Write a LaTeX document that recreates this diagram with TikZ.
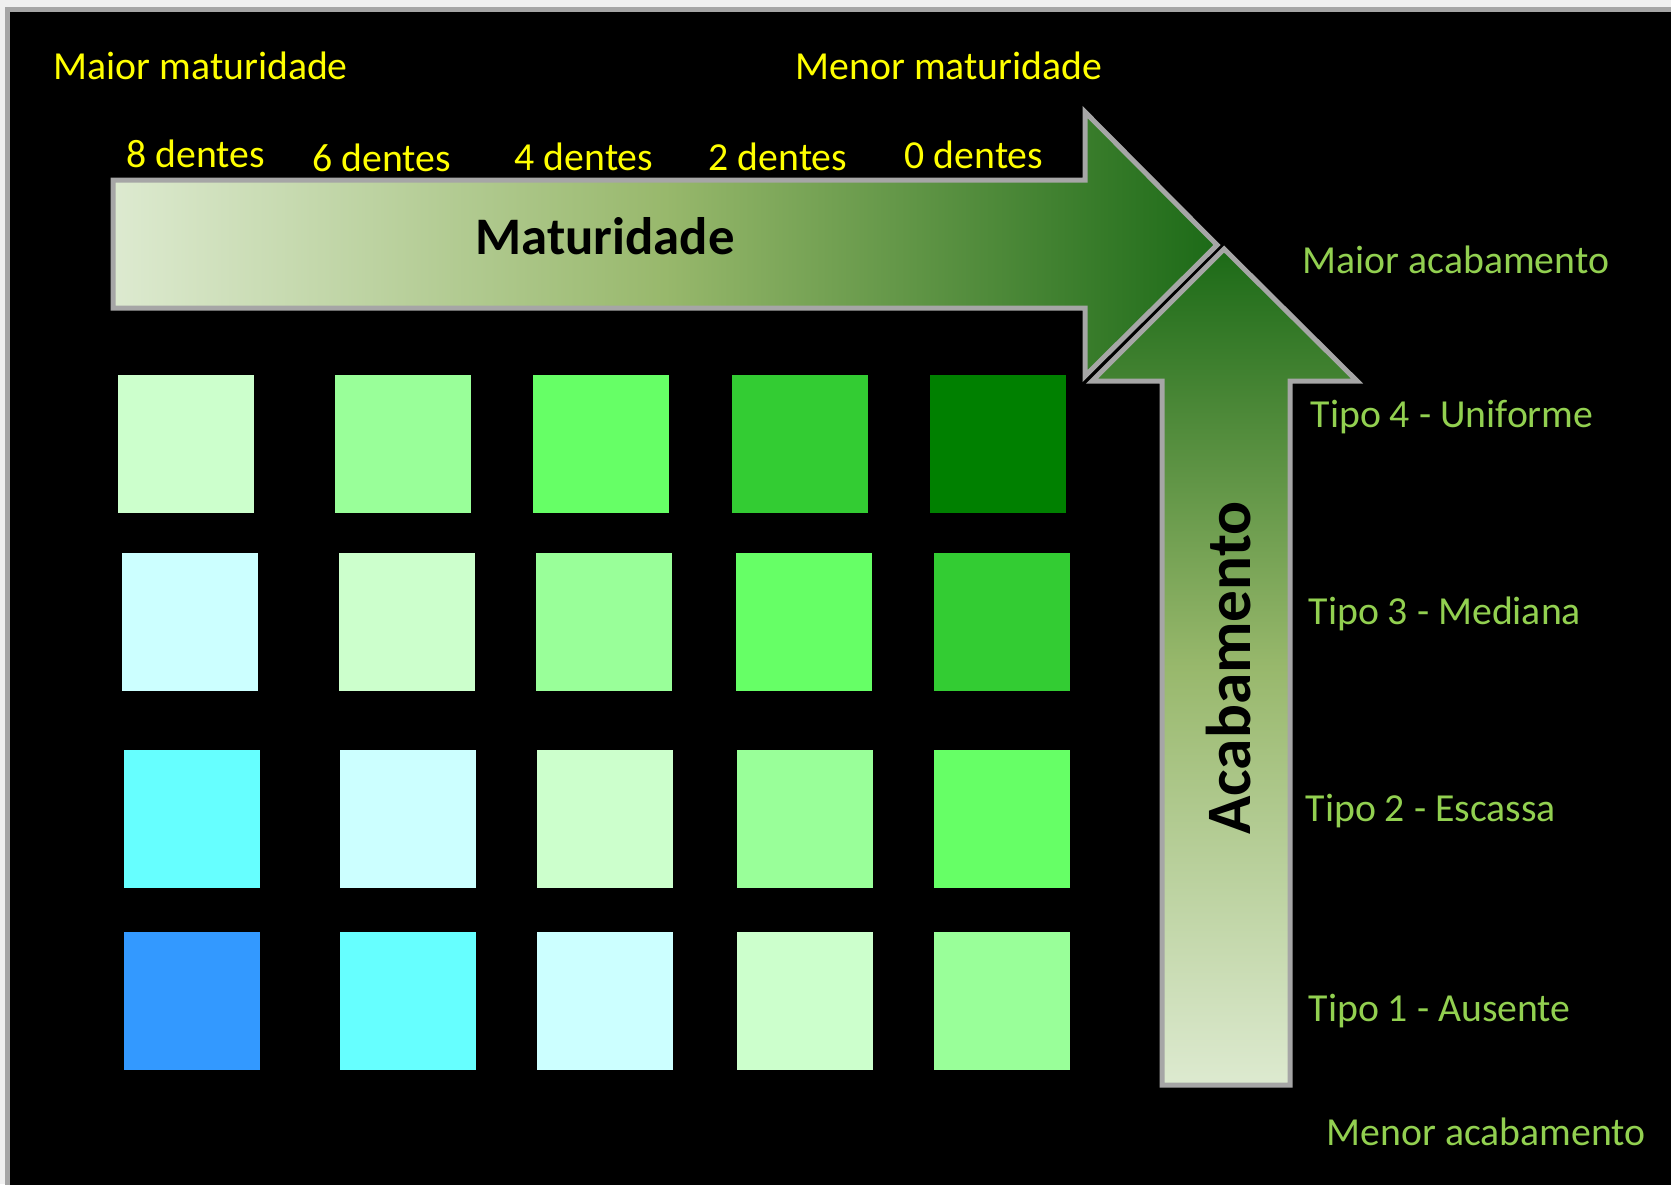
\documentclass[tikz,border=0pt]{standalone}
\usepackage{fontspec}
\setmainfont{Carlito}
\usepackage{tikz}
\definecolor{fundo}{HTML}{F0F0F0}
\definecolor{moldura}{HTML}{A6A6A6}
\definecolor{amarelo}{HTML}{FFFF00}
\definecolor{verdeclaro}{HTML}{92D050}
\definecolor{gradA}{HTML}{DDEAD0}
\definecolor{gradB}{HTML}{98B86C}
\definecolor{gradC}{HTML}{1C6A17}
\definecolor{cA}{HTML}{CCFFCC}
\definecolor{cB}{HTML}{99FF99}
\definecolor{cC}{HTML}{66FF66}
\definecolor{cD}{HTML}{33CC33}
\definecolor{cE}{HTML}{008000}
\definecolor{cF}{HTML}{CCFFFF}
\definecolor{cG}{HTML}{66FFFF}
\definecolor{cH}{HTML}{3399FF}
\tikzstyle{quad}=[rectangle,minimum width=1.36cm,minimum height=1.37cm,inner sep=0pt]
\tikzstyle{rotulo}=[anchor=base west,inner sep=0pt,text=amarelo,font=\fontsize{11.3}{13}\selectfont]
\tikzstyle{tipo}=[anchor=base west,inner sep=0pt,text=verdeclaro,font=\fontsize{11.3}{13}\selectfont]
\tikzstyle{seta}=[draw=moldura,line width=0.05cm,line join=miter]

\begin{document}
\begin{tikzpicture}[x=0.01cm,y=-0.01cm]
  \useasboundingbox (0,0) rectangle (1671,1184);
  \clip (0,0) rectangle (1671,1184);
  \fill[fundo] (0,0) rectangle (1671,1184);
  \draw[moldura,fill=black,line width=0.05cm] (7.5,9.5) rectangle (1700,1220);
  % seta horizontal
  \shade[seta,left color=gradA,right color=gradC,middle color=gradB]
    (113,180) -- (1085,180) -- (1085,112) -- (1217,245) -- (1085,376)
    -- (1085,308) -- (113,308) -- cycle;
  % seta vertical
  \shade[seta,bottom color=gradA,top color=gradC,middle color=gradB]
    (1162,1085) -- (1162,381) -- (1092,381) -- (1224,249) -- (1357,381)
    -- (1290,381) -- (1290,1085) -- cycle;
  \node (matur) at (605,236) {\fontsize{15}{17}\selectfont\bfseries Maturidade};
  \node[rotate=90] (acab) at (1228,668) {\fontsize{18}{20}\selectfont\bfseries Acabamento};
  % textos de cima
  \node[rotulo] (maiorm) at (53,79) {Maior maturidade};
  \node[rotulo] (menorm) at (795,79) {Menor maturidade};
  \node[rotulo] (d8) at (126,167) {8 dentes};
  \node[rotulo] (d6) at (312,171) {6 dentes};
  \node[rotulo] (d4) at (514,170) {4 dentes};
  \node[rotulo] (d2) at (708,170) {2 dentes};
  \node[rotulo] (d0) at (904,168) {0 dentes};
  % textos da direita
  \node[tipo] (maiora) at (1302,273) {Maior acabamento};
  \node[tipo] (t4) at (1310,427) {Tipo 4 - Uniforme};
  \node[tipo] (t3) at (1308,624) {Tipo 3 - Mediana};
  \node[tipo] (t2) at (1305,821) {Tipo 2 - Escassa};
  \node[tipo] (t1) at (1308,1021) {Tipo 1 - Ausente};
  \node[tipo] (menora) at (1326,1145) {Menor acabamento};
  % quadrados
  \node[quad,fill=cA] (q11) at (186,444) {};
  \node[quad,fill=cB] (q12) at (403,444) {};
  \node[quad,fill=cC] (q13) at (601,444) {};
  \node[quad,fill=cD] (q14) at (800,444) {};
  \node[quad,fill=cE] (q15) at (998,444) {};
  \node[quad,fill=cF] (q21) at (190,622) {};
  \node[quad,fill=cA] (q22) at (407,622) {};
  \node[quad,fill=cB] (q23) at (604,622) {};
  \node[quad,fill=cC] (q24) at (804,622) {};
  \node[quad,fill=cD] (q25) at (1002,622) {};
  \node[quad,fill=cG] (q31) at (192,819) {};
  \node[quad,fill=cF] (q32) at (408,819) {};
  \node[quad,fill=cA] (q33) at (605,819) {};
  \node[quad,fill=cB] (q34) at (805,819) {};
  \node[quad,fill=cC] (q35) at (1002,819) {};
  \node[quad,fill=cH] (q41) at (192,1001) {};
  \node[quad,fill=cG] (q42) at (408,1001) {};
  \node[quad,fill=cF] (q43) at (605,1001) {};
  \node[quad,fill=cA] (q44) at (805,1001) {};
  \node[quad,fill=cB] (q45) at (1002,1001) {};
\end{tikzpicture}
\end{document}
